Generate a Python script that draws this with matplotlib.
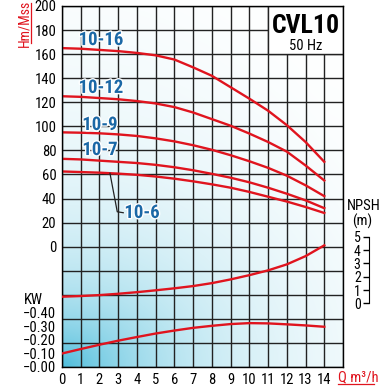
import numpy as np
import matplotlib.pyplot as plt
from matplotlib.patches import Rectangle
from matplotlib.lines import Line2D
import matplotlib.patheffects as pe

plt.rcParams['font.family'] = ['Roboto Condensed', 'Archivo Narrow', 'PT Sans Narrow', 'Liberation Sans', 'DejaVu Sans']

# datos
q = list(range(15))
h_10_16 = [165, 164.5, 163.5, 162.5, 161, 159, 155.5, 149, 142, 132.5, 123, 113, 101, 87, 70.5]
h_10_12 = [125, 124.5, 123.5, 122.5, 121, 119, 116, 111.5, 106, 100.5, 94, 87, 79, 67.5, 55]
h_10_9 = [95, 94.7, 94.2, 93.3, 92, 90, 87.5, 84.3, 80.5, 76, 71, 65.5, 59, 51, 42]
h_10_7 = [73, 72.5, 71.5, 70.5, 69.5, 68, 66, 63.5, 60.5, 57.3, 53.5, 49, 44, 38.5, 32]
h_10_6 = [62.5, 62, 61.5, 60.7, 59.7, 58.3, 56.5, 54.3, 51.8, 49, 45.5, 41.5, 37.5, 33, 28]
kw = [0.10, 0.133, 0.165, 0.195, 0.222, 0.248, 0.27, 0.29, 0.305, 0.318, 0.325, 0.323, 0.316, 0.308, 0.298]
npsh = [0.5, 0.55, 0.62, 0.72, 0.84, 0.98, 1.13, 1.3, 1.52, 1.8, 2.12, 2.48, 2.93, 3.55, 4.36]

curvas = [('10-16', h_10_16), ('10-12', h_10_12), ('10-9', h_10_9), ('10-7', h_10_7), ('10-6', h_10_6)]
etiquetas = {'10-16': (2.08, 171.7), '10-12': (2.08, 131.9), '10-9': (2.03, 101.1), '10-7': (2.03, 80.3)}
kw_ticks = [0.0, 0.1, 0.2, 0.3, 0.4]
kw_labels = ['\u22120.00', '\u22120.10', '\u22120.20', '\u22120.30', '\u22120.40']
npsh_ticks = [0, 1, 2, 3, 4, 5]

rojo = '#e0141e'
azul = '#1b68a6'

fig = plt.figure(figsize=(3.85, 3.92), dpi=100)
ax = fig.add_axes([62/385, 1-367/392, 281/385, 361/392])
ax.set_xlim(0, 15)
ax.set_ylim(-100, 200)

## fondo degradado
ny, nx = 361, 281
yy, xx = np.mgrid[0:ny, 0:nx]
dy = ny - 1 - yy
d = np.sqrt(xx**2 + (1.4*dy)**2)
r = np.sqrt((xx/330.0)**2 + (dy/430.0)**2)
w = 0.85*np.exp(-d/110.0) + 0.14*np.clip(1 - r, 0, 1)
w = np.clip(w, 0, 1)[..., None]
c0 = np.array([0.30, 0.74, 0.86])
img = (1 - w)*np.ones(3) + w*c0
ax.imshow(img, extent=[0, 1, 0, 1], transform=ax.transAxes, aspect='auto', zorder=0)

## rejilla
ax.set_xticks(range(16))
ax.set_xticklabels([str(i) for i in range(15)] + [''])
ax.set_yticks(range(-100, 201, 20))
ax.set_yticklabels(['' if v < 0 else str(v) for v in range(-100, 201, 20)])
ax.grid(True, color='#222222', linewidth=1.0, zorder=1)
ax.set_axisbelow(False)
ax.tick_params(length=0, labelsize=10.5, pad=4)
for s in ax.spines.values():
    s.set_linewidth(1.0)
    s.set_zorder(5)

## curvas de altura
for nombre, h in curvas:
    ax.plot(q, h, color=rojo, linewidth=1.7, zorder=3)
for nombre, (x, y) in etiquetas.items():
    ax.text(x, y, nombre, color=azul, fontsize=13.5, fontweight='bold', ha='center', va='center', zorder=4,
            path_effects=[pe.withStroke(linewidth=2, foreground='white')])
ax.plot([2.56, 2.95, 3.27], [61.0, 29.0, 28.2], color='#222222', linewidth=0.9, zorder=4)
ax.text(3.33, 28.0, '10-6', color=azul, fontsize=13.5, fontweight='bold', ha='left', va='center', zorder=4,
        path_effects=[pe.withStroke(linewidth=2, foreground='white')])

## recuadro titulo
ax.add_patch(Rectangle((11, 160), 4, 40, facecolor='white', edgecolor='#222222', linewidth=1.0, zorder=4))
ax.text(13.0, 183, 'CVL10', fontsize=18.5, fontweight='bold', ha='center', va='center', zorder=5)
ax.text(13.0, 167, '50 Hz', fontsize=10.5, ha='center', va='center', zorder=5)

## potencia
axp = ax.twinx()
axp.set_ylim(0, 300/112.2)
axp.plot(q, kw, color=rojo, linewidth=1.7)
axp.yaxis.set_ticks_position('left')
axp.yaxis.set_label_position('left')
axp.set_yticks(kw_ticks)
axp.set_yticklabels(kw_labels)
axp.tick_params(length=0, labelsize=10.5, pad=4)
for s in axp.spines.values():
    s.set_visible(False)

## NPSH
axn = ax.twinx()
axn.set_ylim((-100 + 47.1)/11.05, (200 + 47.1)/11.05)
axn.plot(q, npsh, color=rojo, linewidth=1.7)
for k in ['top', 'bottom', 'right']:
    axn.spines[k].set_visible(False)
axn.spines['left'].set_position(('axes', 1.0925))
axn.spines['left'].set_bounds(0, 5)
axn.yaxis.set_ticks_position('left')
axn.set_yticks(npsh_ticks)
axn.tick_params(length=4, width=1, labelsize=10, pad=2)

## textos de ejes
fig.text(24/385, 1-23/392, 'Hm/Mss', color=rojo, fontsize=10, rotation=90, ha='center', va='center')
fig.add_artist(Line2D([31/385, 31/385], [1-3/392, 1-43/392], color=rojo, linewidth=0.9))
fig.text(338/385, 1-377/392, 'Q m\u00b3/h', color=rojo, fontsize=10.5, ha='left', va='center')
fig.add_artist(Line2D([338/385, 374/385], [1-384/392, 1-384/392], color=rojo, linewidth=0.9))
fig.text(33/385, 1-300/392, 'KW', fontsize=10.5, ha='center', va='center')
fig.text(364/385, 1-206/392, 'NPSH', fontsize=10.5, ha='center', va='center')
fig.text(362/385, 1-221/392, '(m)', fontsize=10.5, ha='center', va='center')

fig.savefig('out.png', dpi=100)
